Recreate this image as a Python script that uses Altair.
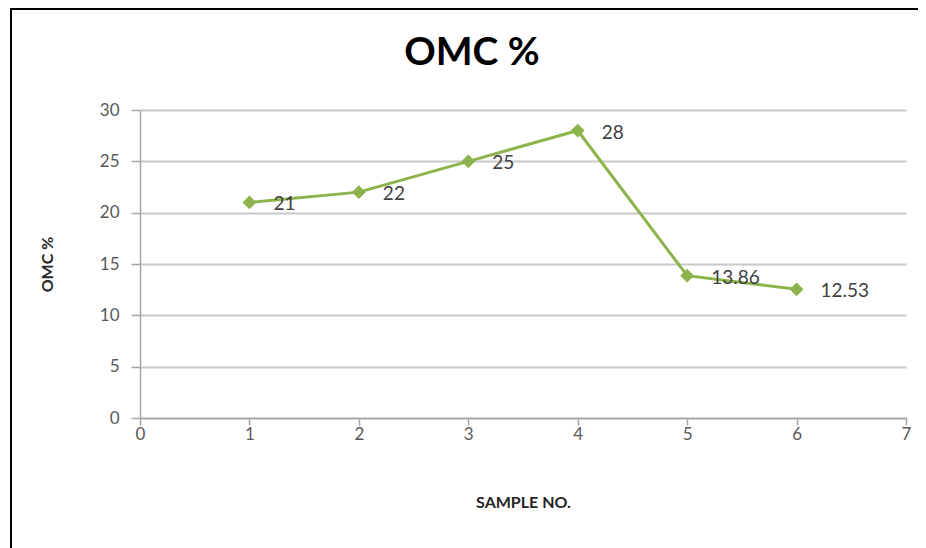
import altair as alt
import pandas as pd

sample_no = [1, 2, 3, 4, 5, 6]
omc = [21, 22, 25, 28, 13.86, 12.53]
labels = ["21", "22", "25", "28", "13.86", "12.53"]
chart_title = ["OMC %"]

df = pd.DataFrame({"sample": sample_no, "omc": omc, "label": labels})

GREEN = "#8db34c"
FONT = "Lato"
AX = "#a6a6a6"

base = alt.Chart(df)

x_enc = alt.X("sample:Q", scale=alt.Scale(domain=[0, 7], nice=False),
              axis=alt.Axis(title="SAMPLE NO.", values=list(range(0, 8)), format="d", grid=False,
                            tickSize=7, tickColor=AX, domainColor=AX,
                            domainWidth=1.5, tickWidth=1.5, labelFlush=False,
                            labelPadding=1, titlePadding=52))
y_enc = alt.Y("omc:Q", scale=alt.Scale(domain=[0, 30], nice=False),
              axis=alt.Axis(title="OMC %", values=list(range(0, 31, 5)), format="d", grid=True,
                            gridColor="#c8c8c8", gridWidth=2, labelFlush=False,
                            tickSize=9, tickColor=AX, domainColor=AX,
                            domainWidth=1.5, tickWidth=1.5,
                            labelPadding=12, titlePadding=44))

line = base.mark_line(color=GREEN, strokeWidth=3).encode(x=x_enc, y=y_enc)
points = base.mark_point(shape="diamond", filled=True, color=GREEN, size=190, opacity=1).encode(
    x="sample:Q", y="omc:Q")
text = base.mark_text(align="left", baseline="middle", dx=24, dy=2, fontSize=19,
                      font=FONT, color="#404040").encode(
    x="sample:Q", y="omc:Q", text="label:N")

title_df = pd.DataFrame({"t": chart_title})
title = alt.Chart(title_df).mark_text(align="center", baseline="middle", font=FONT,
                                      fontSize=39, fontWeight="bold", color="black").encode(
    x=alt.value(332), y=alt.value(-57), text="t:N")

border = alt.Chart(df).mark_rect(fill=None, stroke="black", strokeWidth=2).encode(
    x=alt.value(-129), x2=alt.value(781), y=alt.value(-101), y2=alt.value(460))

chart = alt.layer(border, line, points, text, title).properties(
    width=766, height=308,
    background="white",
    autosize=alt.AutoSizeParams(type="none"),
    padding={"left": 132, "top": 102, "right": 12, "bottom": 130},
).configure_axis(
    labelFont=FONT, labelFontSize=17, labelColor="#595959",
    titleFont=FONT, titleFontSize=16, titleFontWeight="bold", titleColor="#262626",
).configure_view(stroke=None)

chart.save("out.html", embed_options={"renderer": "svg", "actions": False})
